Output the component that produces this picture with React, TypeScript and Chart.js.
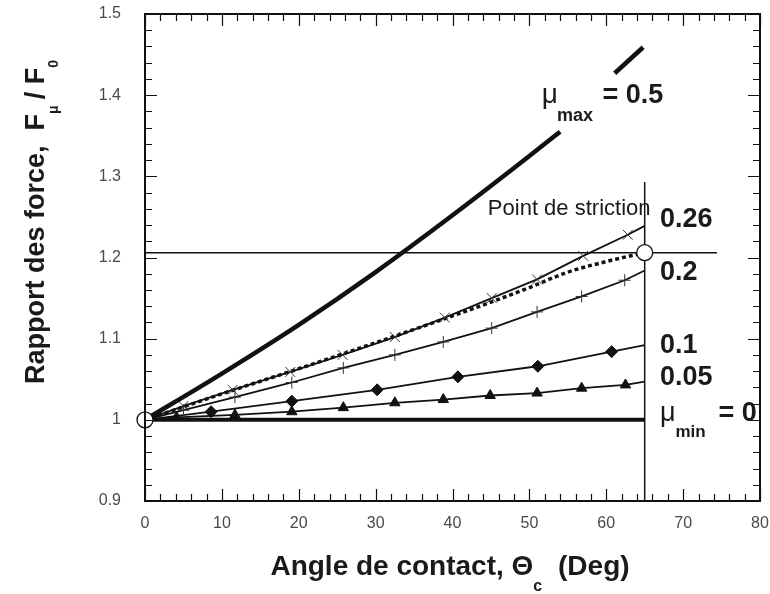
import React, { useEffect, useRef } from "react";
import { Chart, registerables } from "chart.js";

Chart.register(...registerables);

// ---- data ----
const X_MIN = 0;
const X_MAX = 80;
const Y_MIN = 0.9;
const Y_MAX = 1.5;

// mu_max = 0.5 (thick curve, interrupted by its label)
const MU050_X = [0, 10, 20, 30, 40, 50, 54, 57.5, 61.1, 64.8];
const MU050_Y = [1, 1.057, 1.117, 1.182, 1.252, 1.325, 1.355, null, 1.427, 1.459];
// mu = 0.26 (x markers)
const MU026_X = [0, 5, 11.4, 18.9, 25.7, 32.5, 39, 45.1, 51, 57, 62.8, 65];
const MU026_Y = [1, 1.017, 1.037, 1.059, 1.08, 1.102, 1.126, 1.15, 1.173, 1.202, 1.228, 1.239];
// striction curve (bold dotted)
const STRICT_X = [0, 10, 20, 30, 40, 45, 50, 55, 60, 65];
const STRICT_Y = [1, 1.032, 1.063, 1.095, 1.128, 1.145, 1.163, 1.182, 1.195, 1.206];
// mu = 0.2 (+ markers)
const MU020_X = [0, 5, 11.7, 19.1, 25.8, 32.5, 38.8, 45.1, 51, 56.8, 62.4, 65];
const MU020_Y = [1, 1.012, 1.028, 1.046, 1.064, 1.08, 1.096, 1.113, 1.133, 1.152, 1.172, 1.184];
// mu = 0.1 (diamonds)
const MU010_X = [0, 8.6, 19.1, 30.2, 40.7, 51.1, 60.7, 65];
const MU010_Y = [1, 1.01, 1.023, 1.037, 1.053, 1.066, 1.084, 1.092];
// mu = 0.05 (triangles)
const MU005_X = [0, 4.1, 11.7, 19.1, 25.8, 32.5, 38.8, 44.9, 51, 56.8, 62.5, 65];
const MU005_Y = [1, 1.003, 1.006, 1.01, 1.015, 1.021, 1.025, 1.03, 1.033, 1.039, 1.043, 1.047];
// mu_min = 0
const MU000_X = [0, 65];
const MU000_Y = [1, 1];
// striction point reference lines
const NECK_H_X = [0, 74.4];
const NECK_H_Y = [1.206, 1.206];
const NECK_V_X = [65, 65];
const NECK_V_Y = [1.293, 0.9];
// open circles
const CIRCLE_X = [0, 65];
const CIRCLE_Y = [1, 1.206];

const CURVE_LABELS = ["0.26", "0.2", "0.1", "0.05"];
const CURVE_LABEL_Y = [1.2376, 1.1723, 1.0823, 1.0429];

const FONT = "'Liberation Sans', Arial, Helvetica, sans-serif";

const pts = (xs: number[], ys: (number | null)[]) => xs.map((x, i) => ({ x, y: ys[i] }));
const innerRadius = (xs: number[], r: number) => xs.map((_, i) => (i === 0 || i === xs.length - 1 ? 0 : r));

type Part = { t: string; size: number; bold?: boolean; dy?: number; gap?: number };

function richWidth(ctx: CanvasRenderingContext2D, parts: Part[]) {
  let w = 0;
  for (const p of parts) {
    ctx.font = `${p.bold === false ? "" : "bold "}${p.size}px ${FONT}`;
    w += ctx.measureText(p.t).width + (p.gap || 0);
  }
  return w;
}

function drawRich(ctx: CanvasRenderingContext2D, parts: Part[], x: number, y: number) {
  let cx = x;
  for (const p of parts) {
    ctx.font = `${p.bold === false ? "" : "bold "}${p.size}px ${FONT}`;
    ctx.fillText(p.t, cx, y + (p.dy || 0));
    cx += ctx.measureText(p.t).width + (p.gap || 0);
  }
}

const decorPlugin = {
  id: "decor",
  afterDatasetsDraw(chart: any) {
    const { ctx, chartArea: a, scales } = chart;
    const xs = scales.x;
    const ys = scales.y;
    ctx.save();
    ctx.strokeStyle = "#111";
    ctx.lineWidth = 1.2;
    ctx.beginPath();
    for (let v = X_MIN; v <= X_MAX + 1e-9; v += 2) {
      const px = Math.round(xs.getPixelForValue(v)) + 0.5;
      const len = Math.abs(v % 10) < 1e-6 ? 12 : 7;
      ctx.moveTo(px, a.bottom);
      ctx.lineTo(px, a.bottom - len);
      ctx.moveTo(px, a.top);
      ctx.lineTo(px, a.top + len);
    }
    for (let k = 0; k <= 30; k++) {
      const v = Y_MIN + k * 0.02;
      const py = Math.round(ys.getPixelForValue(v)) + 0.5;
      const len = k % 5 === 0 ? 12 : 7;
      ctx.moveTo(a.left, py);
      ctx.lineTo(a.left + len, py);
      ctx.moveTo(a.right, py);
      ctx.lineTo(a.right - len, py);
    }
    ctx.stroke();
    ctx.lineWidth = 2;
    ctx.strokeRect(a.left, a.top, a.right - a.left, a.bottom - a.top);
    ctx.restore();
  },
  afterDraw(chart: any) {
    const { ctx, scales } = chart;
    const xs = scales.x;
    const ys = scales.y;
    const X = (v: number) => xs.getPixelForValue(v);
    const Y = (v: number) => ys.getPixelForValue(v);
    ctx.save();
    ctx.fillStyle = "#1a1a1a";
    ctx.textBaseline = "alphabetic";
    ctx.textAlign = "left";

    // x title
    const xt: Part[] = [
      { t: "Angle de contact, Θ", size: 28 },
      { t: "c", size: 16, dy: 16, gap: 8 },
      { t: " (Deg)", size: 28 },
    ];
    const xw = richWidth(ctx, xt);
    drawRich(ctx, xt, 450 - xw / 2, 575);

    // y title (rotated)
    const yt: Part[] = [
      { t: "Rapport des force,  F", size: 27 },
      { t: "μ", size: 14, dy: 14, gap: 6 },
      { t: "/ F", size: 27 },
      { t: "0", size: 14, dy: 14 },
    ];
    const yw = richWidth(ctx, yt);
    ctx.save();
    ctx.translate(44, 222);
    ctx.rotate(-Math.PI / 2);
    drawRich(ctx, yt, -yw / 2, 0);
    ctx.restore();

    // mu_max label
    drawRich(ctx, [{ t: "μ", size: 28, bold: false }], X(51.6), Y(1.3905));
    drawRich(ctx, [{ t: "max", size: 18 }], X(53.6), Y(1.3905) + 18);
    drawRich(ctx, [{ t: "= 0.5", size: 27 }], X(59.5), Y(1.3905));

    // point de striction
    drawRich(ctx, [{ t: "Point de striction", size: 22, bold: false }], X(44.6), Y(1.2524));

    // curve labels
    CURVE_LABELS.forEach((t, i) => {
      drawRich(ctx, [{ t, size: 27 }], X(67.0), Y(CURVE_LABEL_Y[i]));
    });

    // mu_min label
    drawRich(ctx, [{ t: "μ", size: 27, bold: false }], X(67.0), Y(0.9985));
    drawRich(ctx, [{ t: "min", size: 17 }], X(69.0), Y(0.9985) + 16);
    drawRich(ctx, [{ t: "= 0", size: 27 }], X(74.6), Y(0.9985));
    ctx.restore();
  },
};

export default function App() {
  const ref = useRef<HTMLCanvasElement | null>(null);
  useEffect(() => {
    if (!ref.current) return;
    const black = "#111";
    const chart = new Chart(ref.current, {
      type: "line",
      data: {
        datasets: [
          {
            label: "circles",
            data: pts(CIRCLE_X, CIRCLE_Y),
            showLine: false,
            pointRadius: 8,
            pointBackgroundColor: "#fff",
            pointBorderColor: black,
            pointBorderWidth: 1.3,
            order: -2,
            clip: false,
          } as any,
          {
            label: "mu 0.5",
            data: pts(MU050_X, MU050_Y),
            borderColor: black,
            borderWidth: 4.5,
            pointRadius: 0,
            spanGaps: false,
            cubicInterpolationMode: "monotone",
            borderCapStyle: "butt",
          },
          {
            label: "mu 0.26",
            data: pts(MU026_X, MU026_Y),
            borderColor: black,
            borderWidth: 1.8,
            pointStyle: "crossRot",
            pointRadius: innerRadius(MU026_X, 7),
            pointBorderWidth: 1,
            pointBorderColor: "#333",
          },
          {
            label: "striction",
            data: pts(STRICT_X, STRICT_Y),
            borderColor: black,
            borderWidth: 3.5,
            borderDash: [4, 3],
            pointRadius: 0,
            cubicInterpolationMode: "monotone",
          },
          {
            label: "mu 0.2",
            data: pts(MU020_X, MU020_Y),
            borderColor: black,
            borderWidth: 1.8,
            pointStyle: "cross",
            pointRadius: innerRadius(MU020_X, 6),
            pointBorderWidth: 1,
            pointBorderColor: "#333",
          },
          {
            label: "mu 0.1",
            data: pts(MU010_X, MU010_Y),
            borderColor: black,
            borderWidth: 1.8,
            pointStyle: "rectRot",
            pointRadius: innerRadius(MU010_X, 6),
            pointBackgroundColor: black,
            pointBorderColor: black,
            pointBorderWidth: 1,
          },
          {
            label: "mu 0.05",
            data: pts(MU005_X, MU005_Y),
            borderColor: black,
            borderWidth: 1.8,
            pointStyle: "triangle",
            pointRadius: innerRadius(MU005_X, 6),
            pointBackgroundColor: black,
            pointBorderColor: black,
            pointBorderWidth: 1,
          },
          {
            label: "mu 0",
            data: pts(MU000_X, MU000_Y),
            borderColor: black,
            borderWidth: 4,
            pointRadius: 0,
          },
          {
            label: "neck h",
            data: pts(NECK_H_X, NECK_H_Y),
            borderColor: black,
            borderWidth: 1.5,
            pointRadius: 0,
          },
          {
            label: "neck v",
            data: pts(NECK_V_X, NECK_V_Y),
            borderColor: black,
            borderWidth: 1.5,
            pointRadius: 0,
          },
        ],
      },
      options: {
        animation: false,
        responsive: false,
        maintainAspectRatio: false,
        layout: { padding: { top: 14, right: 10, left: 0, bottom: 0 } },
        plugins: {
          legend: { display: false },
          tooltip: { enabled: false },
          title: { display: false },
        },
        elements: { line: { tension: 0 } },
        scales: {
          x: {
            type: "linear",
            min: X_MIN,
            max: X_MAX,
            grid: { display: false, drawTicks: false },
            border: { display: false },
            ticks: {
              stepSize: 10,
              padding: 13,
              color: "#4a4a4a",
              font: { family: FONT, size: 16 },
            },
            afterFit: (s: any) => {
              s.height = 93;
              s.paddingLeft = 0;
              s.paddingRight = 0;
            },
          },
          y: {
            type: "linear",
            min: Y_MIN,
            max: Y_MAX,
            grid: { display: false, drawTicks: false },
            border: { display: false },
            ticks: {
              stepSize: 0.1,
              padding: 24,
              color: "#4a4a4a",
              font: { family: FONT, size: 16 },
              callback: (v: any) => {
                const n = Math.round(Number(v) * 10) / 10;
                return n === 1 ? "1" : n.toFixed(1);
              },
            },
            afterFit: (s: any) => {
              s.width = 145;
              s.paddingTop = 0;
              s.paddingBottom = 0;
            },
          },
        },
      } as any,
      plugins: [decorPlugin],
    });
    return () => chart.destroy();
  }, []);

  return (
    <div style={{ position: "fixed", left: 0, top: 0, width: 770, height: 594, background: "#fff" }}>
      <canvas ref={ref} width={770} height={594} style={{ width: 770, height: 594, display: "block" }} />
    </div>
  );
}
